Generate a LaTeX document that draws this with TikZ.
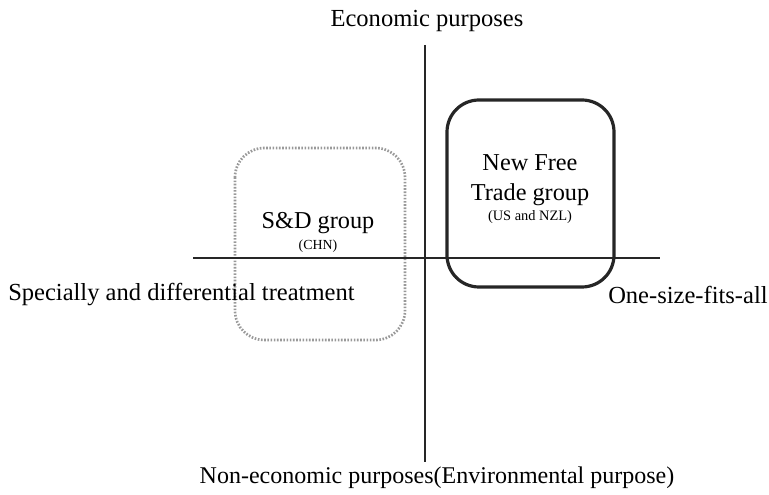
\documentclass[tikz,border=0pt]{standalone}
\usepackage{fontspec}
\setmainfont{Liberation Serif}
\begin{document}
\begin{tikzpicture}[x=0.75pt,y=-0.75pt,
  axis/.style={line width=1.5pt,black!85},
  lbl/.style={font=\fontsize{18.4}{20}\selectfont,inner sep=0pt},
  grp/.style={font=\fontsize{18.2}{22.5}\selectfont,inner sep=0pt,align=center},
  sub/.style={font=\fontsize{10.8}{12}\selectfont,inner sep=0pt}]
\useasboundingbox (0,0) rectangle (769,495);
% boxes
\draw[line width=2pt,black!40,dash pattern=on 1.2pt off 1.2pt,rounded corners=22] (235,148) rectangle (405,340);
\draw[line width=2.4pt,black!85,rounded corners=24] (447,100) rectangle (614,287);
% axes
\coordinate (vt) at (425,45);
\coordinate (vb) at (425,462);
\coordinate (hl) at (193,258);
\coordinate (hr) at (660,258);
\draw[axis] (vt) -- (vb);
\draw[axis] (hl) -- (hr);
% labels
\node[lbl] (eco) at (427,21) {Economic purposes};
\node[lbl,font=\fontsize{18}{20}\selectfont] (non) at (437,478) {Non-economic purposes(Environmental purpose)};
\node[lbl,anchor=west] (sdt) at (8,295) {Specially and differential treatment};
\node[lbl,anchor=west] (one) at (608,295) {One-size-fits-all};
\node[grp] (nft) at (530,180) {New Free\\Trade group};
\node[sub] (us) at (530,217) {(US and NZL)};
\node[grp] (sd) at (318,223) {S\&D group};
\node[sub,font=\fontsize{10.4}{12}\selectfont] (chn) at (318,246) {(CHN)};
\end{tikzpicture}
\end{document}
